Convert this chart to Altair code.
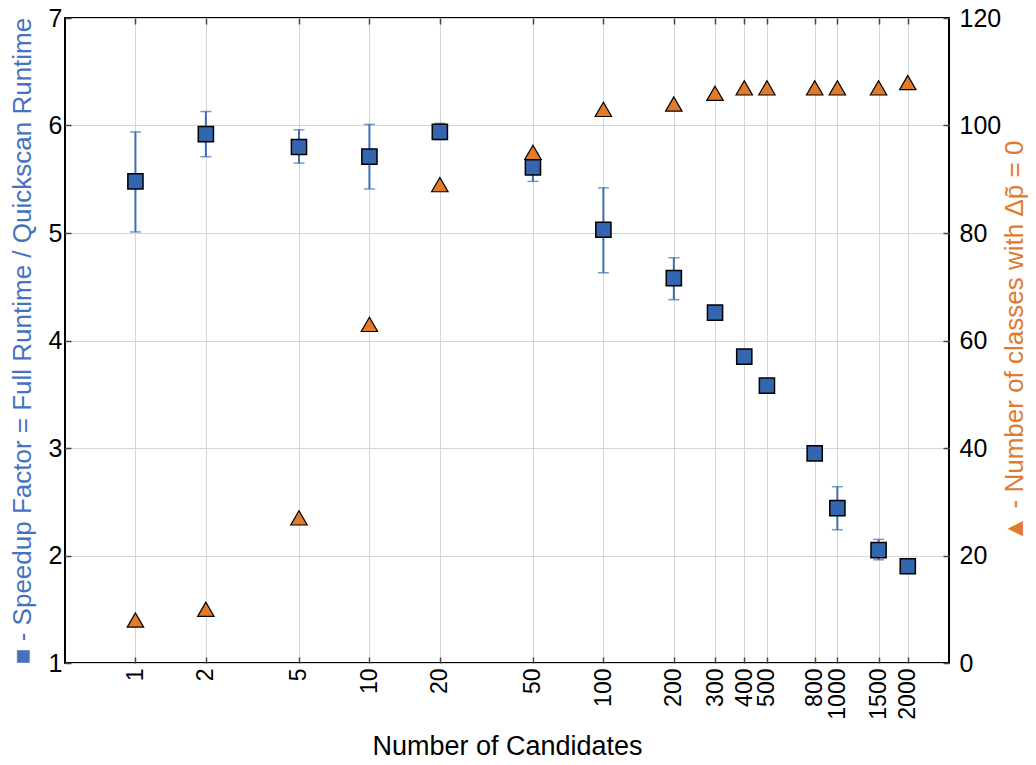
import altair as alt
import pandas as pd

candidates = [1, 2, 5, 10, 20, 50, 100, 200, 300, 400, 500, 800, 1000, 1500, 2000]
speedup = [5.48, 5.92, 5.80, 5.71, 5.94, 5.61, 5.03, 4.58, 4.26, 3.85, 3.58, 2.95, 2.44, 2.05, 1.90]
speedup_hi = [5.94, 6.13, 5.96, 6.01, 6.02, 5.74, 5.42, 4.77, 4.26, 3.85, 3.58, 2.95, 2.64, 2.15, 1.90]
speedup_lo = [5.01, 5.71, 5.65, 5.41, 5.87, 5.48, 4.63, 4.38, 4.26, 3.85, 3.58, 2.95, 2.24, 1.96, 1.90]
classes = [8, 10, 27, 63, 89, 95, 103, 104, 106, 107, 107, 107, 107, 107, 108]

left_ticks = [1, 2, 3, 4, 5, 6, 7]
right_ticks = [0, 20, 40, 60, 80, 100, 120]

df = pd.DataFrame({
    "candidates": candidates,
    "speedup": speedup,
    "hi": speedup_hi,
    "lo": speedup_lo,
    "classes": classes,
})

FONT = "Liberation Sans"
BLUE = "#3465af"
BLUE_TXT = "#4573c0"
ERR = "#3d6cb5"
ORANGE = "#e07b2c"
GRID = "#d6d6d6"

xscale = alt.Scale(type="log", domain=[0.5, 3000])

x_bottom = alt.X(
    "candidates:Q",
    scale=xscale,
    axis=alt.Axis(
        values=candidates, format="d", labelAngle=-90, title="Number of Candidates",
        offset=-6, tickSize=6, tickWidth=1.5, tickColor="#444", domain=False,
        grid=True, gridColor=GRID, gridWidth=1, labelPadding=5, labelOverlap=False,
        labelFontSize=23, titleFontSize=27, titlePadding=14,
    ),
)
x_top = alt.X(
    "candidates:Q",
    scale=xscale,
    axis=alt.Axis(
        orient="top", values=candidates, labels=False, title=None,
        offset=-6, tickSize=6, tickWidth=1.5, tickColor="#444", domain=False, grid=False,
    ),
)

y_axis = alt.Axis(
    values=left_ticks, offset=-6, tickSize=6, tickWidth=1.5, tickColor="#444",
    domain=False, grid=True, gridColor=GRID, gridWidth=1, labelPadding=3,
    labelFontSize=25, title="■ - Speedup Factor = Full Runtime / Quickscan Runtime",
    titleColor=BLUE_TXT, titleFontSize=26, titleAngle=270, titlePadding=13,
)
yscale_left = alt.Scale(domain=[1, 7])

base = alt.Chart(df)

rule = base.mark_rule(color=ERR, strokeWidth=2).encode(
    x=x_bottom,
    y=alt.Y("lo:Q", scale=yscale_left, axis=y_axis),
    y2="hi:Q",
)
cap_hi = base.mark_tick(orient="horizontal", size=11, thickness=1.5, color=ERR).encode(
    x=x_bottom, y=alt.Y("hi:Q", scale=yscale_left, axis=y_axis)
)
cap_lo = base.mark_tick(orient="horizontal", size=11, thickness=1.5, color=ERR).encode(
    x=x_bottom, y=alt.Y("lo:Q", scale=yscale_left, axis=y_axis)
)
squares = base.mark_point(shape="square", filled=True, size=230, fill=BLUE,
                          stroke="black", strokeWidth=1.5, opacity=1).encode(
    x=x_bottom, y=alt.Y("speedup:Q", scale=yscale_left, axis=y_axis)
)
left = alt.layer(rule, cap_hi, cap_lo, squares)

triangles = base.mark_point(shape="triangle-up", filled=True, size=270, fill=ORANGE,
                            stroke="black", strokeWidth=1.2, opacity=1).encode(
    x=x_top,
    y=alt.Y(
        "classes:Q",
        scale=alt.Scale(domain=[0, 120]),
        axis=alt.Axis(
            orient="right", values=right_ticks, offset=-6, tickSize=6, tickWidth=1.5,
            tickColor="#444", domain=False, grid=False, labelPadding=10, labelFontSize=25,
            title="▲ - Number of classes with Δp̃ = 0", titleColor=ORANGE,
            titleFontSize=26, titleAngle=270, titlePadding=27,
        ),
    ),
)

chart = (
    alt.layer(left, triangles)
    .resolve_scale(y="independent")
    .resolve_axis(x="independent", y="independent")
    .properties(
        width=884, height=645, autosize="none",
        padding={"left": 57, "top": 10, "right": 79, "bottom": 94},
    )
    .configure_view(stroke="black", strokeWidth=2)
    .configure_axis(labelFont=FONT, titleFont=FONT, labelColor="black",
                    titleColor="black", titleFontWeight="normal")
)

chart.save("out.html", embed_options={"renderer": "svg", "actions": False})
